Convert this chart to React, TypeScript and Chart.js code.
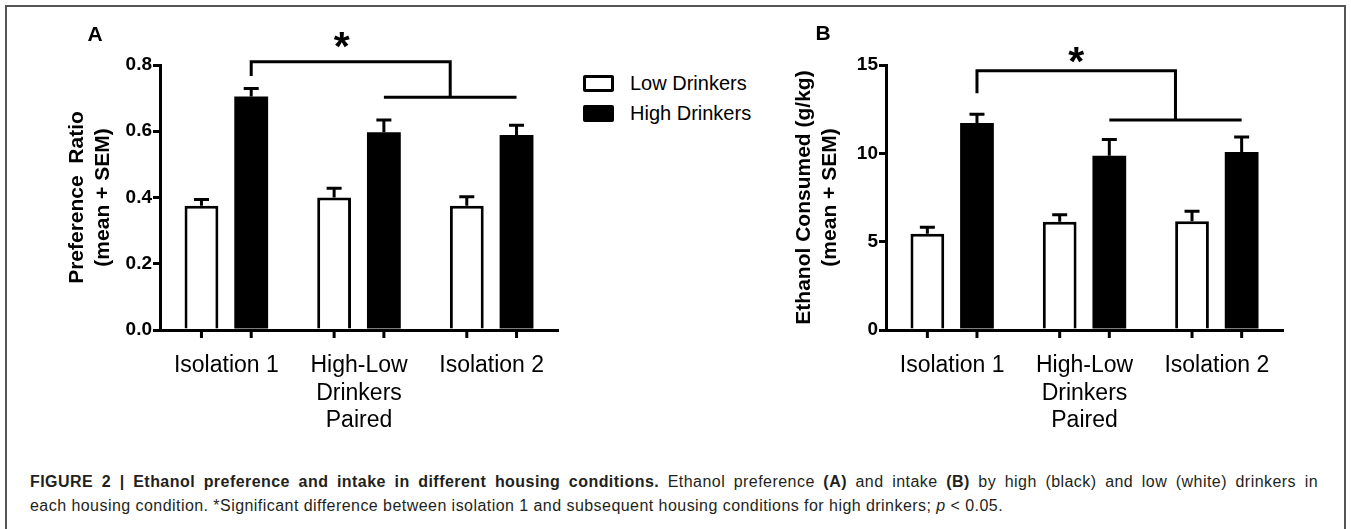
import React, { useEffect, useRef } from 'react';
import { Chart, registerables } from 'chart.js';

Chart.register(...registerables);

// ---------- data ----------
const categories: (string | string[])[] = ['Isolation 1', ['High-Low', 'Drinkers', 'Paired'], 'Isolation 2'];
const seriesNames = ['Low Drinkers', 'High Drinkers'];

// Panel A: preference ratio (mean + SEM)
const prefLow = [0.375, 0.4, 0.375];
const prefLowSem = [0.019, 0.028, 0.027];
const prefHigh = [0.705, 0.597, 0.589];
const prefHighSem = [0.024, 0.037, 0.029];
const prefTicks = [0, 0.2, 0.4, 0.6, 0.8];
const prefBracket = [0.81, 0.767, 0.703]; // top, left drop end, lower line

// Panel B: ethanol consumed g/kg (mean + SEM)
const intakeLow = [5.45, 6.13, 6.15];
const intakeLowSem = [0.36, 0.4, 0.57];
const intakeHigh = [11.72, 9.86, 10.07];
const intakeHighSem = [0.49, 0.93, 0.85];
const intakeTicks = [0, 5, 10, 15];
const intakeBracket = [14.67, 13.4, 11.88];

const FONT = '"Liberation Sans", Arial, Helvetica, sans-serif';

type PanelCfg = {
  low: number[];
  lowSem: number[];
  high: number[];
  highSem: number[];
  ticks: number[];
  decimals: number;
  yTitle: string[];
  letter: string;
  letterX: number;
  letterY: number;
  bracket: number[];
  starDx: number;
  starY: number;
  left: number;
  width: number;
  axisW: number;
  padRight: number;
  titlePad: number;
};

function decorPlugin(p: PanelCfg) {
  return {
    id: 'decor' + p.letter,
    afterDatasetsDraw(chart: any) {
      const ctx = chart.ctx as CanvasRenderingContext2D;
      const y = chart.scales.y;
      const vals = [p.low, p.high];
      const sems = [p.lowSem, p.highSem];
      ctx.save();
      ctx.strokeStyle = '#000';
      ctx.fillStyle = '#000';
      ctx.lineWidth = 3;
      ctx.lineCap = 'butt';
      ctx.lineJoin = 'miter';
      const capW = 15;
      const base = chart.chartArea.bottom;
      for (let d = 0; d < 2; d++) {
        const meta = chart.getDatasetMeta(d);
        meta.data.forEach((el: any, i: number) => {
          const top = y.getPixelForValue(vals[d][i] + sems[d][i]);
          ctx.beginPath();
          ctx.moveTo(el.x, el.y);
          ctx.lineTo(el.x, top);
          ctx.moveTo(el.x - capW / 2, top);
          ctx.lineTo(el.x + capW / 2, top);
          ctx.stroke();
          // x-axis tick mark under each bar
          ctx.beginPath();
          ctx.moveTo(el.x, base);
          ctx.lineTo(el.x, base + 8);
          ctx.stroke();
        });
      }
      // significance bracket
      const hi = chart.getDatasetMeta(1).data;
      const lx = hi[0].x;
      const r1 = hi[1].x;
      const r2 = hi[2].x;
      const rx = (r1 + r2) / 2;
      const ty = y.getPixelForValue(p.bracket[0]);
      const ly = y.getPixelForValue(p.bracket[1]);
      const lo = y.getPixelForValue(p.bracket[2]);
      ctx.beginPath();
      ctx.moveTo(lx, ly);
      ctx.lineTo(lx, ty);
      ctx.lineTo(rx, ty);
      ctx.lineTo(rx, lo);
      ctx.stroke();
      ctx.beginPath();
      ctx.moveTo(r1, lo);
      ctx.lineTo(r2, lo);
      ctx.stroke();
      // asterisk
      const fs = 41;
      ctx.font = `bold ${fs}px ${FONT}`;
      ctx.textAlign = 'center';
      ctx.textBaseline = 'alphabetic';
      ctx.fillText('*', (lx + rx) / 2 + p.starDx, p.starY + 0.57 * fs);
      // panel letter
      ctx.font = `bold 21px ${FONT}`;
      ctx.textBaseline = 'middle';
      ctx.fillText(p.letter, p.letterX, p.letterY);
      ctx.restore();
    },
  };
}

function Panel(p: PanelCfg) {
  const ref = useRef<HTMLCanvasElement | null>(null);
  useEffect(() => {
    if (!ref.current) return;
    const chart = new Chart(ref.current, {
      type: 'bar',
      data: {
        labels: categories as any,
        datasets: [
          {
            label: seriesNames[0],
            data: p.low,
            backgroundColor: '#ffffff',
            borderColor: '#000000',
            borderWidth: 3,
          },
          {
            label: seriesNames[1],
            data: p.high,
            backgroundColor: '#000000',
            borderColor: '#000000',
            borderWidth: 0,
          },
        ],
      },
      options: {
        responsive: false,
        animation: false,
        devicePixelRatio: 1,
        layout: { padding: { top: 65, right: p.padRight, bottom: 0, left: 0 } },
        datasets: { bar: { categoryPercentage: 0.75, barPercentage: 0.68 } },
        plugins: { legend: { display: false }, tooltip: { enabled: false }, title: { display: false } },
        scales: {
          x: {
            type: 'category',
            grid: { display: false, drawTicks: false },
            border: { display: true, color: '#000', width: 3 },
            ticks: {
              color: '#000',
              padding: 22,
              maxRotation: 0,
              autoSkip: false,
              font: { family: FONT, size: 23, lineHeight: 1.2 },
            },
            afterFit: (s: any) => {
              s.height = 110;
            },
          },
          y: {
            type: 'linear',
            min: p.ticks[0],
            max: p.ticks[p.ticks.length - 1],
            afterBuildTicks: (s: any) => {
              s.ticks = p.ticks.map((v) => ({ value: v }));
            },
            grid: {
              display: true,
              drawOnChartArea: false,
              drawTicks: true,
              tickLength: 7,
              color: '#000',
              lineWidth: 3,
            },
            border: { display: true, color: '#000', width: 3 },
            ticks: {
              color: '#000',
              padding: 1,
              font: { family: FONT, size: 19, weight: 'bold' },
              callback: (v: any) => Number(v).toFixed(p.decimals),
            },
            title: {
              display: true,
              text: p.yTitle,
              color: '#000',
              padding: { top: p.titlePad, bottom: 0 },
              font: { family: FONT, size: 21, weight: 'bold', lineHeight: 1.2 },
            },
            afterFit: (s: any) => {
              s.width = p.axisW;
            },
          },
        },
      } as any,
      plugins: [decorPlugin(p)],
    });
    return () => chart.destroy();
  }, []);
  return (
    <canvas
      ref={ref}
      width={p.width}
      height={440}
      style={{ position: 'absolute', left: p.left, top: 0, width: p.width, height: 440 }}
    />
  );
}

export default function App() {
  const panelA: PanelCfg = {
    low: prefLow,
    lowSem: prefLowSem,
    high: prefHigh,
    highSem: prefHighSem,
    ticks: prefTicks,
    decimals: 1,
    yTitle: ['Preference  Ratio', '(mean + SEM)'],
    letter: 'A',
    letterX: 95,
    letterY: 35,
    bracket: prefBracket,
    starDx: -9,
    starY: 37,
    left: 0,
    width: 580,
    axisW: 160,
    padRight: 22,
    titlePad: 65,
  };
  const panelB: PanelCfg = {
    low: intakeLow,
    lowSem: intakeLowSem,
    high: intakeHigh,
    highSem: intakeHighSem,
    ticks: intakeTicks,
    decimals: 0,
    yTitle: ['Ethanol Consumed (g/kg)', '(mean + SEM)'],
    letter: 'B',
    letterX: 43,
    letterY: 34,
    bracket: intakeBracket,
    starDx: 0,
    starY: 52,
    left: 780,
    width: 571,
    axisW: 106,
    padRight: 68,
    titlePad: 12,
  };
  const capStyle: React.CSSProperties = {
    position: 'absolute',
    left: 30,
    fontSize: 16,
    letterSpacing: '0.45px',
    lineHeight: '24px',
    whiteSpace: 'nowrap',
    color: '#231f20',
  };
  return (
    <div
      style={{
        position: 'absolute',
        left: 0,
        top: 0,
        width: 1351,
        height: 529,
        overflow: 'hidden',
        background: '#fff',
        fontFamily: FONT,
        color: '#000',
      }}
    >
      <div
        style={{
          position: 'absolute',
          left: 5,
          top: 5,
          width: 1341,
          height: 600,
          boxSizing: 'border-box',
          border: '2px solid #555',
        }}
      />
      <Panel {...panelA} />
      <Panel {...panelB} />
      {/* legend */}
      <div
        style={{
          position: 'absolute',
          left: 583,
          top: 75,
          width: 31,
          height: 17,
          boxSizing: 'border-box',
          border: '3px solid #000',
          borderRadius: 2,
          background: '#fff',
        }}
      />
      <div
        style={{ position: 'absolute', left: 583, top: 105, width: 31, height: 17, borderRadius: 2, background: '#000' }}
      />
      <div style={{ position: 'absolute', left: 630, top: 71, fontSize: 20, lineHeight: '24px', whiteSpace: 'nowrap' }}>
        {seriesNames[0]}
      </div>
      <div style={{ position: 'absolute', left: 630, top: 101, fontSize: 20, lineHeight: '24px', whiteSpace: 'nowrap' }}>
        {seriesNames[1]}
      </div>
      {/* caption */}
      <div
        style={{
          ...capStyle,
          top: 470,
          width: 1288,
          whiteSpace: 'normal',
          textAlign: 'justify',
          textAlignLast: 'justify',
          height: 24,
          overflow: 'visible',
        }}
      >
        <b>FIGURE 2 | Ethanol preference and intake in different housing conditions.</b> Ethanol preference{' '}
        <b>(A)</b> and intake <b>(B)</b> by high (black) and low (white) drinkers in
      </div>
      <div style={{ ...capStyle, top: 494 }}>
        each housing condition. *Significant difference between isolation 1 and subsequent housing conditions for high
        drinkers; <i>p</i> &lt; 0.05.
      </div>
    </div>
  );
}
